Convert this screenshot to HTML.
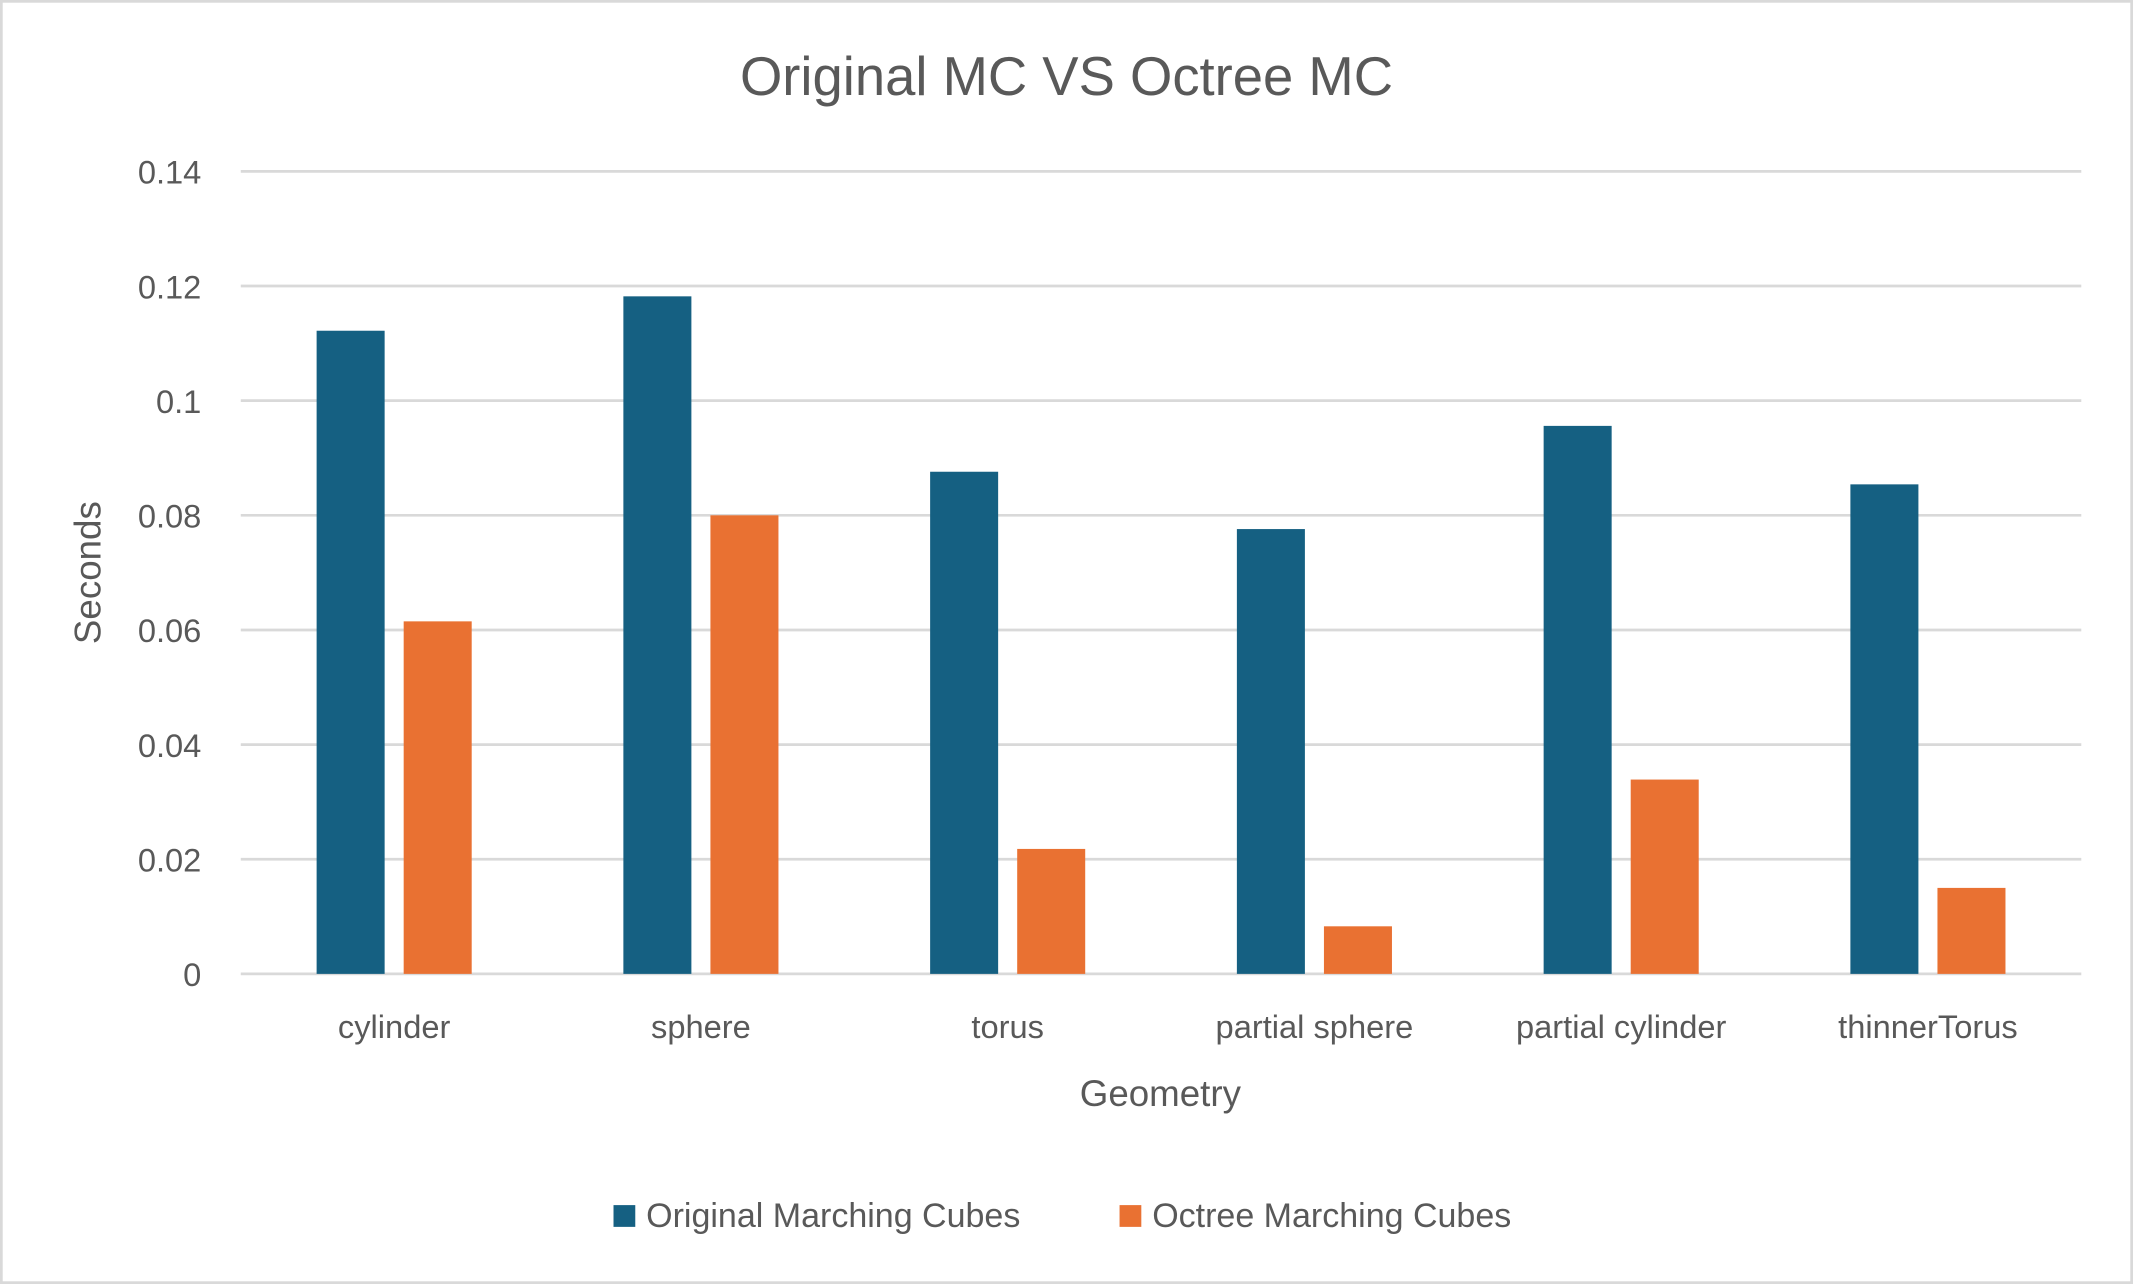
<!DOCTYPE html>
<html><head><meta charset="utf-8"><style>
html,body{margin:0;padding:0;background:#fff;}
svg{display:block;font-family:"Liberation Sans",sans-serif;}
</style></head><body>
<svg id="chart" width="2133" height="1284" viewBox="0 0 1568 944" preserveAspectRatio="none" xmlns="http://www.w3.org/2000/svg">
<rect x="1" y="1" width="1566" height="942" fill="#fff" stroke="#d9d9d9" stroke-width="2"/>
<text x="784" y="70" text-anchor="middle" font-size="40" fill="#595959">Original MC VS Octree MC</text>
<g id="grid"></g>
<g id="bars"></g>
<g id="labels"></g>
<text transform="translate(74,421) rotate(-90)" text-anchor="middle" font-size="27" fill="#595959">Seconds</text>
<text x="853" y="813" text-anchor="middle" font-size="27" fill="#595959">Geometry</text>
<g>
<rect x="451" y="886" width="16" height="16" fill="#156082"/>
<text x="475" y="902" font-size="25" fill="#595959">Original Marching Cubes</text>
<rect x="823" y="886" width="16" height="16" fill="#E97132"/>
<text x="847" y="902" font-size="25" fill="#595959">Octree Marching Cubes</text>
</g>
</svg>
<script>
const categories=["cylinder","sphere","torus","partial sphere","partial cylinder","thinnerTorus"];
const originalValues=[0.1122,0.1182,0.0876,0.0776,0.0956,0.0854];
const octreeValues=[0.0615,0.0800,0.0218,0.0083,0.0339,0.0150];
const yTicks=[0,0.02,0.04,0.06,0.08,0.1,0.12,0.14];
const yTickLabels=["0","0.02","0.04","0.06","0.08","0.1","0.12","0.14"];
const NS="http://www.w3.org/2000/svg";
const x0=177,x1=1530,yB=716,yT=126,yMax=0.14;
const y=v=>yB-(v/yMax)*(yB-yT);
const band=(x1-x0)/categories.length;
const xc=i=>x0+band*(i+0.5);
function mk(t,a,p){const e=document.createElementNS(NS,t);for(const k in a)e.setAttribute(k,a[k]);p.appendChild(e);return e;}
const grid=document.getElementById('grid'),bars=document.getElementById('bars'),labels=document.getElementById('labels');
yTicks.forEach((v,i)=>{
 const l=mk('line',{x1:x0,x2:x1,y1:y(v),y2:y(v),stroke:'#d9d9d9','stroke-width':2},grid);
 
 
 const t=mk('text',{x:148,y:y(v)+9,'text-anchor':'end','font-size':24,fill:'#595959'},labels);
 t.textContent=yTickLabels[i];
 
 
});
const bw=50,gap=14;
categories.forEach((c,i)=>{
 const cx=xc(i);
 const b1=mk('rect',{x:cx-gap/2-bw,y:y(originalValues[i]),width:bw,height:yB-y(originalValues[i]),fill:'#156082'},bars);
 
 
 const b2=mk('rect',{x:cx+gap/2,y:y(octreeValues[i]),width:bw,height:yB-y(octreeValues[i]),fill:'#E97132'},bars);
 
 
 const t=mk('text',{x:cx,y:763,'text-anchor':'middle','font-size':24,fill:'#595959'},labels);
 t.textContent=c;
 
 
});
</script>
</body></html>
